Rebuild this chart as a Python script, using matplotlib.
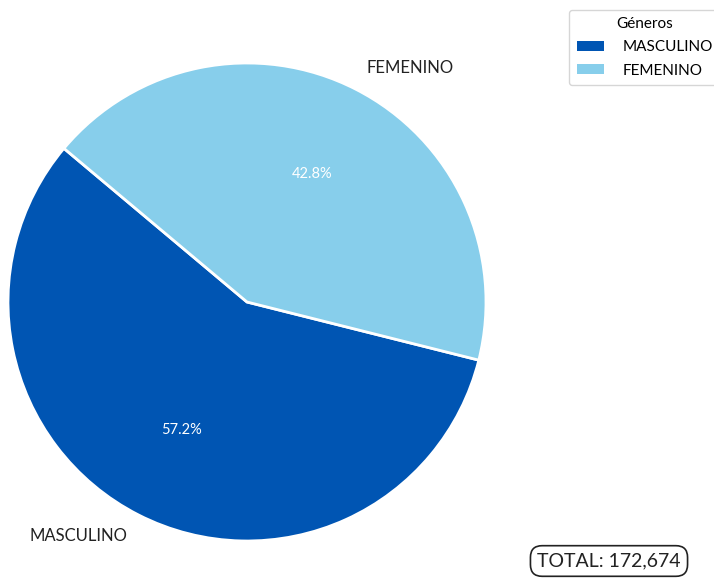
import matplotlib
matplotlib.use("Agg")
import matplotlib.pyplot as plt

categories = ["MASCULINO", "FEMENINO"]
values = [57.2, 42.8]
total_label = "TOTAL: 172,674"
colors = ["#0055B3", "#87CEEB"]

plt.rcParams['font.family'] = ['Lato', 'DejaVu Sans']

fig = plt.figure(figsize=(7.14, 5.79), dpi=100)
W, H = 714, 579
cx, cy, r = 247, 302, 239
lim = 1.05
ax = fig.add_axes([(cx - r * lim) / W, (H - cy - r * lim) / H, 2 * r * lim / W, 2 * r * lim / H])
wedges, texts, autotexts = ax.pie(values, labels=categories, colors=colors, startangle=140,
                                  counterclock=True, autopct='%1.1f%%',
                                  wedgeprops=dict(edgecolor='white', linewidth=2),
                                  textprops=dict(fontsize=12, color='#222222'))
for t in autotexts:
    t.set_color('white')
    t.set_fontsize(10.5)
ax.set_xlim(-lim, lim)
ax.set_ylim(-lim, lim)
ax.set_aspect('equal')
ax.axis('off')

leg = fig.legend(wedges, categories, title="Géneros", loc='upper right',
                 bbox_to_anchor=(1.02, 0.9965), fontsize=11, title_fontsize=11,
                 handlelength=1.8, handleheight=0.6, handletextpad=1.2,
                 labelspacing=0.6, borderpad=0.5, frameon=True)
leg.get_frame().set_edgecolor('#cccccc')
for h in leg.legend_handles:
    h.set_edgecolor('none')

fig.text(609 / W, 1 - 561 / H, total_label, ha='center', va='center', fontsize=14,
         color='#222222',
         bbox=dict(boxstyle='round,pad=0.35,rounding_size=0.6', fc='white', ec='#222222', lw=1.2))

fig.savefig("out.png", dpi=100)
